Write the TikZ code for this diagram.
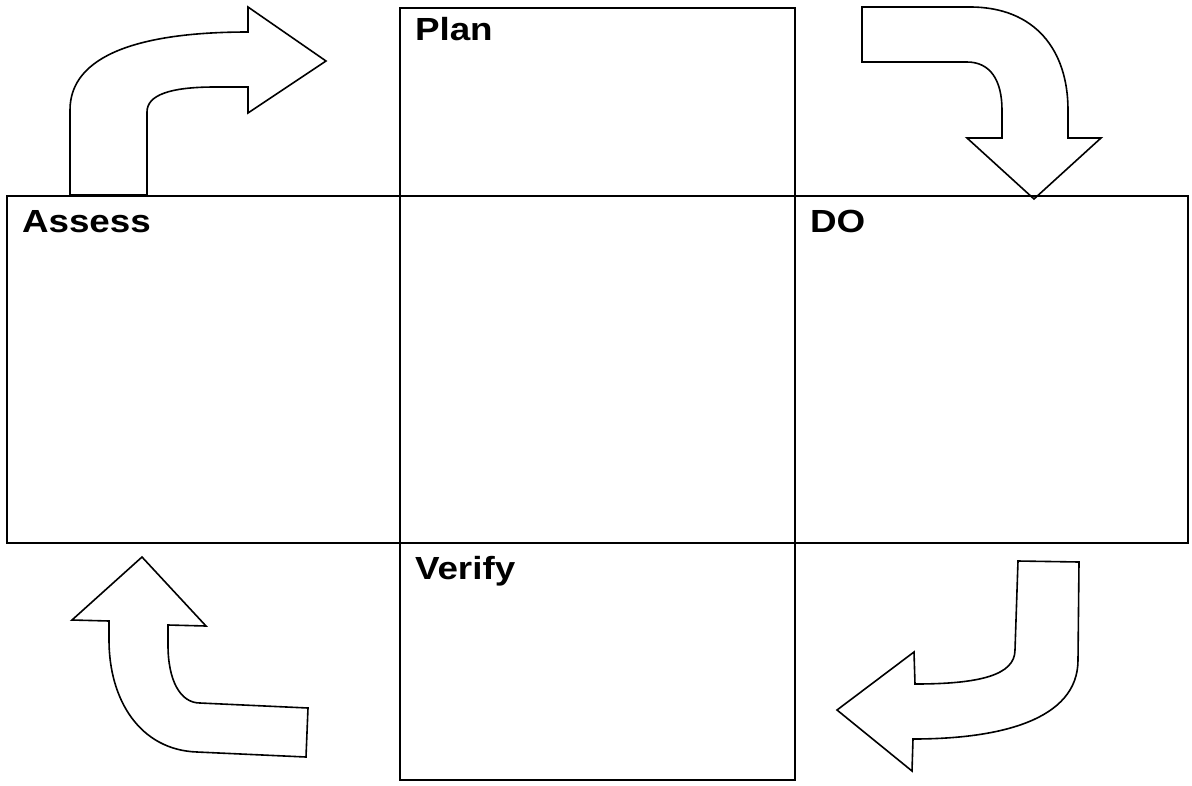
\documentclass[tikz,border=0pt]{standalone}
\usepackage{fontspec}
\setmainfont{Liberation Sans}
\begin{document}
\begin{tikzpicture}[x=1pt, y=-1pt,
  cell/.style={draw=black, line width=2pt, fill=none, inner sep=0pt, outer sep=0pt, anchor=north west},
  tag/.style={anchor=base west, inner sep=0pt, outer sep=0pt,
    font=\fontsize{32}{32}\selectfont\bfseries},
  bent/.style={draw=black, fill=white, line width=1.6pt, line join=miter}]
\useasboundingbox (0,0) rectangle (1192,785);

% curved block arrows around the grid
\draw[bent] (70,195) -- (70,110) .. controls (70,55) and (140,32) .. (248,32)
  -- (248,7) -- (326,61) -- (248,113) -- (248,87) -- (215,87)
  .. controls (170,87) and (147,95) .. (147,112) -- (147,195) -- cycle;
\draw[bent] (862,7) -- (970,7) .. controls (1035,7) and (1068,50) .. (1068,110)
  -- (1068,138) -- (1101,138) -- (1034,199) -- (967,138) -- (1002,138)
  -- (1002,110) .. controls (1002,80) and (990,62) .. (967,62) -- (862,62) -- cycle;
\draw[bent] (142,557) -- (206,626) -- (168,625) -- (168,645)
  .. controls (168,680) and (180,703) .. (200,703) -- (308,708) -- (306,757)
  -- (197,752) .. controls (140,750) and (109,700) .. (109,640)
  -- (109,621) -- (72,620) -- cycle;
\draw[bent] (1018,561) -- (1079,562) -- (1078,660)
  .. controls (1078,720) and (1000,739) .. (913,739) -- (912,771) -- (837,710)
  -- (914,652) -- (915,684) .. controls (980,684) and (1015,675) .. (1015,650) -- cycle;

% grid of boxes
\node[cell, minimum width=395pt, minimum height=188pt] (plan) at (400,8) {};
\node[cell, minimum width=393pt, minimum height=347pt] (assess) at (7,196) {};
\node[cell, minimum width=395pt, minimum height=347pt] (centre) at (400,196) {};
\node[cell, minimum width=393pt, minimum height=347pt] (do) at (795,196) {};
\node[cell, minimum width=395pt, minimum height=237pt] (verify) at (400,543) {};

% box titles
\node[tag] (plantext) at (415,40) {\scalebox{1.15}[1]{Plan}};
\node[tag] (assesstext) at (22,232) {\scalebox{1.15}[1]{Assess}};
\node[tag] (dotext) at (810,232) {\scalebox{1.15}[1]{DO}};
\node[tag] (verifytext) at (415,579) {\scalebox{1.15}[1]{Verify}};
\end{tikzpicture}
\end{document}
